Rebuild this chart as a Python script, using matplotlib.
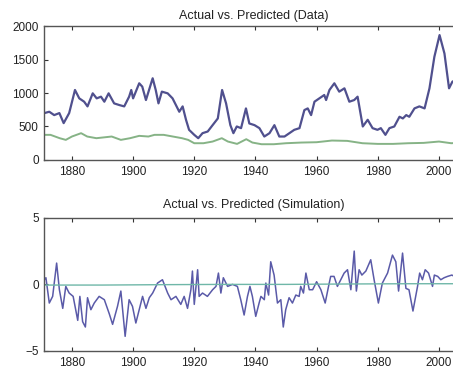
import matplotlib
matplotlib.use('Agg')
import matplotlib.pyplot as plt

plt.rcParams['font.family'] = ['Liberation Sans', 'DejaVu Sans']

# Top panel: actual (blue) vs predicted (green)
data_years = [1871, 1872.6, 1874.2, 1875.9, 1877.3, 1879.1, 1881, 1882.4, 1884, 1885.1,
              1886.8, 1888.1, 1889.5, 1890.6, 1892, 1893.8, 1895.5, 1897.1, 1898.7, 1899.4,
              1900, 1902, 1903, 1904.2, 1906.4, 1907.4, 1908.3, 1909.4, 1911.3, 1912.9,
              1915.1, 1916.2, 1917.3, 1918.3, 1920, 1921.3, 1922.7, 1924.4, 1926, 1927.7,
              1929.1, 1930.4, 1931.8, 1932.8, 1933.9, 1935.3, 1936.9, 1938, 1939.7, 1941.3,
              1942.9, 1944.6, 1946.2, 1947.8, 1949.5, 1951.1, 1952.7, 1954.4, 1956, 1957.1,
              1958.2, 1959.3, 1960.9, 1962.5, 1963.1, 1964.2, 1965.8, 1967.4, 1969.1, 1970.7,
              1972.3, 1973.4, 1975.1, 1976.7, 1978.3, 1979.9, 1981, 1982.5, 1983.8, 1985.4,
              1987.1, 1988.2, 1989.3, 1990.3, 1992, 1993.6, 1995.3, 1996.9, 1998.5, 2000.2,
              2001.8, 2003.3, 2004.4, 2006]
data_actual = [700, 720, 670, 700, 550, 700, 1045, 920, 870, 800,
               995, 920, 945, 870, 995, 845, 820, 800, 945, 1045,
               920, 1145, 1095, 895, 1220, 1045, 845, 1020, 995, 920,
               720, 800, 600, 450, 375, 325, 400, 425, 520, 620,
               1045, 845, 520, 400, 500, 475, 770, 545, 520, 475,
               350, 400, 520, 350, 350, 400, 450, 475, 745, 770,
               670, 870, 920, 970, 895, 1045, 1145, 1020, 1070, 870,
               895, 945, 500, 600, 475, 450, 475, 375, 475, 500,
               645, 620, 670, 645, 770, 800, 770, 1070, 1540, 1865,
               1590, 1070, 1170, 1200]

pred_years = [1871, 1873, 1876, 1878, 1880, 1883, 1885, 1888, 1893, 1896,
              1899, 1902, 1905, 1907, 1910, 1913, 1916, 1918, 1920, 1923,
              1926, 1929, 1931, 1934, 1937, 1939, 1942, 1946, 1950, 1955,
              1960, 1965, 1970, 1975, 1980, 1985, 1990, 1995, 2000, 2004, 2008]
data_pred = [375, 375, 325, 300, 350, 400, 350, 325, 350, 300,
             325, 360, 350, 375, 375, 350, 325, 300, 250, 250,
             275, 325, 275, 240, 310, 260, 235, 235, 250, 260,
             265, 290, 285, 250, 240, 240, 250, 255, 275, 250, 260]

# Bottom panel: simulated actual vs predicted
sim_years = [1871, 1871.5, 1872.6, 1873.7, 1875, 1875.9, 1877, 1878, 1879.1, 1880.4,
             1881.9, 1882.6, 1883.5, 1884.4, 1885.1, 1886.2, 1887.3, 1888.9, 1890.6, 1892.2,
             1893.3, 1894.9, 1896, 1897.4, 1898.7, 1899.8, 1900.9, 1902, 1903.1, 1904.2,
             1905.3, 1906.4, 1908, 1909.6, 1911.3, 1912.4, 1914, 1915.6, 1916.7, 1917.8,
             1918.9, 1919.4, 1920, 1921.1, 1921.6, 1922.7, 1924.3, 1926, 1927.1, 1927.9,
             1928.7, 1929.5, 1930.9, 1932.5, 1934.1, 1935.2, 1936.3, 1937.4, 1938.2, 1939,
             1940.1, 1941.2, 1941.8, 1942.9, 1943.4, 1944.3, 1945, 1946.1, 1947.2, 1948.3,
             1949.1, 1949.9, 1951, 1952.1, 1953.2, 1954.3, 1954.8, 1955.7, 1956.5, 1957.6,
             1958.7, 1960, 1961.4, 1962.8, 1963.9, 1964.6, 1965.7, 1966.8, 1967.9, 1969,
             1970.1, 1971.2, 1972.3, 1973, 1973.9, 1974.8, 1976.1, 1977.7, 1978.8, 1980.2,
             1981.5, 1983.2, 1984.8, 1985.9, 1986.8, 1988.1, 1989.2, 1990.2, 1991.5, 1993,
             1993.7, 1994.6, 1995.5, 1996.6, 1997.9, 1998.5, 1999.6, 2000.6, 2001.7, 2002.8,
             2004.2, 2006]
sim_actual = [0.35, 0.5, -1.4, -0.9, 1.6, -0.4, -1.8, -0.15, -0.65, -0.9,
              -2.7, -0.9, -2.8, -3.2, -1.0, -1.9, -1.4, -0.9, -1.15, -2.2,
              -3.0, -1.65, -0.5, -3.9, -1.15, -1.65, -2.9, -1.9, -0.9, -1.8,
              -1.0, -0.65, 0.1, 0.35, -0.65, -1.15, -0.9, -1.5, -0.9, -1.8,
              -0.4, 1.0, -1.5, 1.1, -0.9, -0.65, -0.9, -0.4, -0.15, 0.85,
              -0.65, 0.5, -0.15, 0.0, -0.15, -1.15, -2.3, -0.9, -0.15, -0.9,
              -2.4, -1.4, -0.9, -1.15, 0.1, -0.8, 1.7, 0.7, -1.4, -1.15,
              -3.2, -1.9, -1.0, -1.4, -0.8, -0.9, -0.15, -0.65, 0.85, -0.4,
              -0.4, 0.2, -0.4, -1.4, -0.15, 0.6, 0.6, -0.15, 0.35, 0.85,
              1.1, -0.4, 2.5, -0.5, 1.1, 0.7, 1.0, 1.85, 0.35, -1.4,
              0.1, 0.85, 2.2, 1.7, -0.5, 2.35, -0.3, -0.4, -2.0, -0.15,
              0.85, 0.35, 1.1, 0.85, -0.15, 0.7, 0.6, 0.35, 0.5, 0.6,
              0.7, 0.5]
sim_pred_years = [1871, 1890, 1910, 1930, 1950, 1970, 1990, 2008]
sim_pred = [-0.05, -0.05, -0.02, 0.0, 0.0, 0.03, 0.05, 0.05]

x_ticks = [1880, 1900, 1920, 1940, 1960, 1980, 2000]


def style_axes(ax):
    ax.set_xlim(1871, 2008)
    ax.set_xticks(x_ticks)
    ax.tick_params(direction='in', length=3, width=0.8, top=True, right=True,
                   labelsize=8.5, colors='#333333', labelcolor='#222222', pad=4)
    for s in ax.spines.values():
        s.set_color('#555555')
        s.set_linewidth(1.0)


fig = plt.figure(figsize=(4.53, 3.72), dpi=100)

ax1 = fig.add_axes([0.098, 0.570, 0.925, 0.360])
ax1.plot(data_years, data_actual, color='#50508e', lw=1.6)
ax1.plot(pred_years, data_pred, color='#86b386', lw=1.4)
ax1.set_ylim(0, 2000)
ax1.set_yticks([0, 500, 1000, 1500, 2000])
style_axes(ax1)
ax1.set_title('Actual vs. Predicted (Data)', fontsize=9, pad=5.0, color='#222222')

ax2 = fig.add_axes([0.098, 0.0565, 0.925, 0.358])
ax2.plot(sim_years, sim_actual, color='#5a5aa8', lw=1.1)
ax2.plot(sim_pred_years, sim_pred, color='#6fb7a8', lw=1.0)
ax2.set_ylim(-5, 5)
ax2.set_yticks([-5, 0, 5])
style_axes(ax2)
ax2.set_title('Actual vs. Predicted (Simulation)', fontsize=9, pad=7.0, color='#222222')

fig.savefig('out.png', dpi=100)
